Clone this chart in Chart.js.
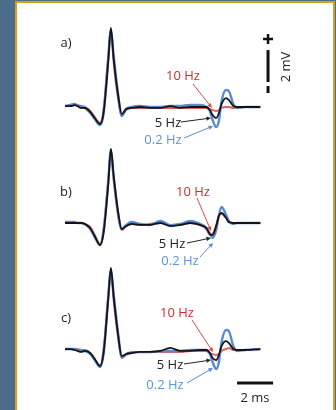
<!DOCTYPE html>
<html>
<head>
<meta charset="utf-8">
<script src="https://cdn.jsdelivr.net/npm/chart.js@4"></script>
<style>
  html, body { margin: 0; padding: 0; }
  body { width: 336px; height: 410px; background: #4b6d8b; position: relative; overflow: hidden; }
  #panel { position: absolute; left: 15px; top: 1px; width: 316px; height: 420px;
           background: #fff; border: 2px solid #d89f17; border-bottom: none; }
  #ecg { position: absolute; left: 0; top: 0; }
</style>
</head>
<body>
<div id="panel"></div>
<canvas id="ecg" width="336" height="410"></canvas>
<script>
// time axis shared by every trace (ms)
const timeMs = [0, 0.3, 0.55, 0.7, 0.9, 1.1, 1.4, 1.65, 1.95, 2.15, 2.4, 2.55, 2.7, 2.95, 3.15, 3.4, 3.7, 4.15,
                4.7, 5.3, 5.85, 6.4, 6.95, 7.5, 7.85, 8.05, 8.2, 8.4, 8.55, 8.7, 8.95, 9.1, 9.35, 9.55, 10.0, 10.85];

// panel a) traces, mV relative to baseline
const a10Hz  = [0.06, 0.06, 0.13, 0.13, 0.06, 0, -0.25, -0.63, -1.0, -0.06, 3.19, 4.81, 2.81, 0.5, -0.56, -0.19, -0.06, -0.06,
                -0.06, -0.06, -0.06, -0.06, -0.06, -0.06, -0.06, -0.13, -0.19, -0.25, -0.19, -0.06, 0, 0, -0.06, 0, 0, 0];
const a5Hz   = [0.06, 0.06, 0.12, 0.06, -0.06, -0.06, -0.31, -0.69, -1.06, -0.31, 2.81, 4.94, 3.06, 0.75, -0.44, -0.12, -0.06, 0,
                -0.06, -0.06, 0.06, -0.06, 0, 0, 0, -0.19, -0.5, -0.69, -0.38, 0.19, 0.56, 0.44, 0.06, 0, 0, 0];
const a02Hz  = [0.06, 0.13, 0.19, 0.06, 0, -0.06, -0.38, -0.75, -1.13, -0.38, 2.94, 4.81, 3.25, 0.81, -0.56, -0.13, 0, 0.06,
                0, 0, 0.06, 0.06, 0.13, 0.13, 0, -0.25, -0.81, -1.25, -0.88, 0.38, 1.06, 1.0, 0.19, -0.06, 0, 0];

// panel b)
const b10Hz  = [0, 0, 0, 0, 0, -0.06, -0.25, -0.75, -1.31, -0.31, 2.69, 4.44, 2.69, 0.44, -0.44, -0.19, -0.06, -0.13,
                -0.06, 0, -0.13, -0.13, 0, -0.13, -0.38, -0.75, -0.69, -0.13, 0.44, 0.56, 0.31, 0.06, 0, 0, 0, 0];
const b5Hz   = [0, 0, 0, 0, 0, -0.06, -0.31, -0.81, -1.38, -0.56, 2.38, 4.63, 3.0, 0.69, -0.38, -0.19, -0.06, -0.12,
                -0.12, 0, -0.19, -0.12, 0, -0.12, -0.31, -0.69, -0.75, -0.19, 0.44, 0.63, 0.31, 0.06, 0, 0, 0, 0];
const b02Hz  = [0.06, 0.06, 0.06, 0, 0, -0.06, -0.38, -0.88, -1.38, -0.5, 2.5, 4.56, 2.94, 0.63, -0.38, -0.13, 0.06, -0.06,
                -0.13, 0.13, -0.13, -0.06, 0.13, -0.06, -0.31, -0.69, -0.94, -0.44, 0.5, 1.0, 0.5, 0.13, -0.06, 0, 0, 0];

// panel c)
const c10Hz  = [0.06, 0.06, 0.06, 0.06, 0, 0, -0.19, -0.56, -1.0, 0.13, 3.38, 4.88, 3.13, 0.75, -0.5, -0.31, -0.19, -0.13,
                -0.13, -0.13, -0.13, -0.13, -0.06, -0.06, -0.06, -0.19, -0.25, -0.31, -0.25, -0.06, 0.06, 0.13, 0, 0, 0, 0.06];
const c5Hz   = [0.06, 0.06, 0, -0.06, -0.12, -0.06, -0.19, -0.56, -1.0, -0.12, 3.13, 5.13, 3.38, 0.94, -0.38, -0.25, -0.19, -0.12,
                -0.12, -0.06, 0.13, -0.06, -0.06, 0, 0, -0.19, -0.5, -0.63, -0.31, 0.25, 0.56, 0.44, 0.06, 0, 0, 0.06];
const c02Hz  = [0.06, 0.06, 0.06, 0, -0.06, -0.06, -0.25, -0.63, -1.06, -0.19, 3.25, 5.0, 3.5, 1.06, -0.44, -0.25, -0.13, -0.13,
                -0.13, -0.06, -0.06, -0.06, 0, 0, 0, -0.25, -0.75, -1.19, -0.75, 0.5, 1.25, 1.19, 0.25, -0.06, 0, 0.06];

const panelOffsets = [0, -7.25, -15.1875]; // mV shift of each panel's baseline
const seriesNames = ['10 Hz', '5 Hz', '0.2 Hz'];

const RED = 'rgb(226,98,98)', BLUE = 'rgb(86,140,212)', BLACK = '#141414';
const lineStyle = {
  '10 Hz':  { color: RED, width: 2, order: 2 },
  '5 Hz':   { color: BLACK, width: 1.8, order: 0 },
  '0.2 Hz': { color: BLUE, width: 2.4, order: 1 }
};

const panels = [[a10Hz, a5Hz, a02Hz], [b10Hz, b5Hz, b02Hz], [c10Hz, c5Hz, c02Hz]];
const datasets = [];
panels.forEach((traces, p) => {
  traces.forEach((vals, s) => {
    const st = lineStyle[seriesNames[s]];
    datasets.push({
      label: seriesNames[s],
      data: vals.map((v, i) => ({ x: timeMs[i], y: v + panelOffsets[p] })),
      borderColor: st.color,
      borderWidth: st.width,
      order: st.order,
      pointRadius: 0,
      cubicInterpolationMode: 'monotone',
      fill: false
    });
  });
});

// text and arrows (pixel positions)
const labels = [
  { t: 'a)', x: 66, y: 43, c: '#222' }, { t: 'b)', x: 66, y: 192, c: '#222' }, { t: 'c)', x: 66, y: 318, c: '#222' },
  { t: '10 Hz', x: 183, y: 76, c: '#d02b2b' }, { t: '5 Hz', x: 168, y: 123, c: '#222' }, { t: '0.2 Hz', x: 163, y: 140, c: '#5b95dc' },
  { t: '10 Hz', x: 193, y: 192, c: '#d02b2b' }, { t: '5 Hz', x: 172, y: 244, c: '#222' }, { t: '0.2 Hz', x: 180, y: 261, c: '#5b95dc' },
  { t: '10 Hz', x: 177, y: 313, c: '#d02b2b' }, { t: '5 Hz', x: 170, y: 365, c: '#222' }, { t: '0.2 Hz', x: 165, y: 385, c: '#5b95dc' },
  { t: '2 ms', x: 255, y: 398, c: '#222' }
];
const arrows = [
  { from: [193, 84], to: [212, 108], c: '#d84a4a' }, { from: [181, 122], to: [211, 118], c: '#222' }, { from: [184, 138], to: [213, 126], c: BLUE },
  { from: [197, 198], to: [211, 231], c: '#d84a4a' }, { from: [187, 243], to: [211, 238], c: '#222' }, { from: [200, 257], to: [213, 243], c: BLUE },
  { from: [192, 320], to: [213, 352], c: '#d84a4a' }, { from: [184, 364], to: [211, 360], c: '#222' }, { from: [187, 383], to: [213, 368], c: BLUE }
];

// scale bars, data units
const mvBar = { t: 11.28, top: 3.56, len: 2 };
const msBar = { y: -17.25, start: 9.56, len: 2 };

const annotate = {
  id: 'annotate',
  afterDatasetsDraw(chart) {
    const ctx = chart.ctx, xs = chart.scales.x, ys = chart.scales.y;
    ctx.save();
    ctx.font = '13px "Open Sans", sans-serif';
    ctx.textAlign = 'center';
    ctx.textBaseline = 'middle';
    labels.forEach(l => { ctx.fillStyle = l.c; ctx.fillText(l.t, l.x, l.y); });

    arrows.forEach(a => {
      const [x0, y0] = a.from, [x1, y1] = a.to;
      const ang = Math.atan2(y1 - y0, x1 - x0);
      ctx.strokeStyle = a.c; ctx.fillStyle = a.c; ctx.lineWidth = 1;
      ctx.beginPath(); ctx.moveTo(x0, y0); ctx.lineTo(x1 - 3 * Math.cos(ang), y1 - 3 * Math.sin(ang)); ctx.stroke();
      ctx.beginPath();
      ctx.moveTo(x1, y1);
      ctx.lineTo(x1 - 5 * Math.cos(ang - 0.45), y1 - 5 * Math.sin(ang - 0.45));
      ctx.lineTo(x1 - 5 * Math.cos(ang + 0.45), y1 - 5 * Math.sin(ang + 0.45));
      ctx.closePath(); ctx.fill();
    });

    // vertical 2 mV bar with + and -
    const bx = xs.getPixelForValue(mvBar.t);
    const by0 = ys.getPixelForValue(mvBar.top), by1 = ys.getPixelForValue(mvBar.top - mvBar.len);
    ctx.strokeStyle = '#111'; ctx.lineWidth = 3;
    ctx.beginPath(); ctx.moveTo(bx, by0); ctx.lineTo(bx, by1); ctx.stroke();
    ctx.lineWidth = 2.5;
    ctx.beginPath(); ctx.moveTo(bx - 5, by0 - 11); ctx.lineTo(bx + 5, by0 - 11);
    ctx.moveTo(bx, by0 - 16); ctx.lineTo(bx, by0 - 6); ctx.stroke();
    ctx.lineWidth = 3;
    ctx.beginPath(); ctx.moveTo(bx, by1 + 4); ctx.lineTo(bx, by1 + 11); ctx.stroke();

    ctx.save();
    ctx.translate(bx + 18, (by0 + by1) / 2 + 1);
    ctx.rotate(-Math.PI / 2);
    ctx.fillStyle = '#222';
    ctx.fillText('2 mV', 0, 0);
    ctx.restore();

    // horizontal 2 ms bar
    const hy = ys.getPixelForValue(msBar.y);
    ctx.lineWidth = 3;
    ctx.beginPath();
    ctx.moveTo(xs.getPixelForValue(msBar.start), hy);
    ctx.lineTo(xs.getPixelForValue(msBar.start + msBar.len), hy);
    ctx.stroke();
    ctx.restore();
  }
};

new Chart(document.getElementById('ecg'), {
  type: 'line',
  data: { datasets: datasets },
  options: {
    responsive: false,
    animation: false,
    layout: { padding: 0 },
    plugins: { legend: { display: false }, tooltip: { enabled: false } },
    scales: {
      x: { type: 'linear', display: false, min: -65 / 18, max: 271 / 18 },
      y: { type: 'linear', display: false, min: -303 / 16, max: 107 / 16 }
    }
  },
  plugins: [annotate]
});
</script>
</body>
</html>
